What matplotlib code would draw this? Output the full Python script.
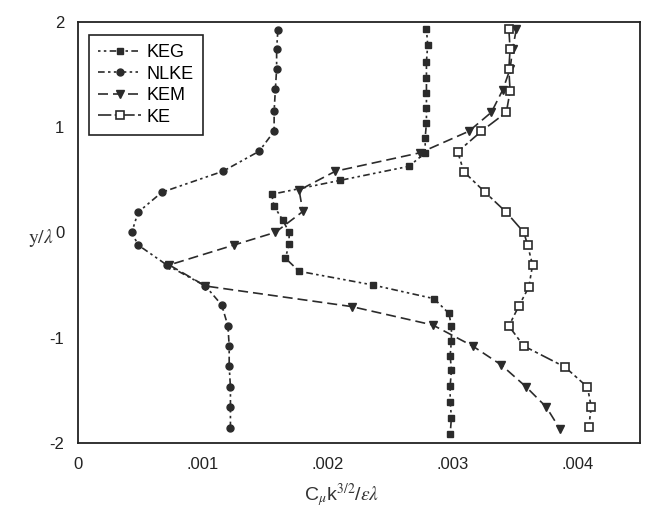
import matplotlib
matplotlib.use('Agg')
import matplotlib.pyplot as plt

# profiles (x in units of C_mu k^1.5 / (eps lambda))
keg_x = [0.00279, 0.00280, 0.00279, 0.00279, 0.00279, 0.00279, 0.00279, 0.00278, 0.00278,
         0.00265, 0.00210, 0.00155, 0.00157, 0.00164, 0.00169, 0.00169, 0.00166, 0.00177,
         0.00236, 0.00285, 0.00297, 0.00299, 0.00299, 0.00298, 0.00299, 0.00298, 0.00298,
         0.00299, 0.00298]
keg_y = [1.93, 1.78, 1.62, 1.47, 1.32, 1.18, 1.04, 0.90, 0.755,
         0.627, 0.494, 0.361, 0.248, 0.114, 0.0, -0.115, -0.245, -0.37,
         -0.50, -0.63, -0.77, -0.89, -1.03, -1.17, -1.31, -1.46, -1.61,
         -1.76, -1.92]

nlke_x = [0.00160, 0.00159, 0.00159, 0.00158, 0.00157, 0.00157, 0.00145, 0.00116, 0.00067,
          0.00048, 0.00043, 0.00048, 0.00071, 0.00102, 0.00115, 0.00120, 0.00121, 0.00121,
          0.00122, 0.00122, 0.00122]
nlke_y = [1.92, 1.74, 1.55, 1.36, 1.15, 0.96, 0.77, 0.58, 0.38,
          0.19, 0.0, -0.12, -0.31, -0.51, -0.69, -0.89, -1.08, -1.27,
          -1.47, -1.66, -1.86]

kem_x = [0.00351, 0.00348, 0.00346, 0.00340, 0.00331, 0.00313, 0.00274, 0.00206, 0.00177,
         0.00180, 0.00158, 0.00125, 0.00073, 0.00102, 0.00219, 0.00284, 0.00316, 0.00339,
         0.00359, 0.00375, 0.00386]
kem_y = [1.93, 1.74, 1.55, 1.35, 1.14, 0.96, 0.756, 0.58, 0.40,
         0.198, 0.0, -0.12, -0.31, -0.51, -0.705, -0.88, -1.08, -1.26,
         -1.47, -1.66, -1.87]

ke_x = [0.00345, 0.00346, 0.00345, 0.00346, 0.00343, 0.00323, 0.00304, 0.00309, 0.00326,
        0.00343, 0.00357, 0.00360, 0.00364, 0.00361, 0.00353, 0.00345, 0.00357, 0.00390,
        0.00408, 0.00411, 0.00409]
ke_y = [1.93, 1.74, 1.55, 1.34, 1.14, 0.96, 0.765, 0.575, 0.38,
        0.19, 0.0, -0.12, -0.31, -0.52, -0.70, -0.89, -1.08, -1.28,
        -1.47, -1.66, -1.85]

x_ticks = [0, 0.001, 0.002, 0.003, 0.004]
x_tick_labels = ['0', '.001', '.002', '.003', '.004']
y_ticks = [-2, -1, 0, 1, 2]

plt.rcParams['font.family'] = ['Liberation Sans Narrow', 'Liberation Sans', 'DejaVu Sans']
plt.rcParams['mathtext.fontset'] = 'stix'
plt.rcParams['axes.unicode_minus'] = False

ink = '#2b2b2b'
fig = plt.figure(figsize=(6.51, 5.18), dpi=100)
ax = fig.add_axes([0.12, 0.145, 0.863, 0.813])

ax.plot(keg_x, keg_y, color=ink, lw=1.2, linestyle=(0, (1.5, 2, 1.5, 2, 4, 2)),
        marker='s', ms=5, mfc=ink, mec=ink, label='KEG')
ax.plot(nlke_x, nlke_y, color=ink, lw=1.2, linestyle=(0, (4, 2, 1.5, 2, 1.5, 2)),
        marker='o', ms=5, mfc=ink, mec=ink, label='NLKE')
ax.plot(kem_x, kem_y, color=ink, lw=1.2, linestyle=(0, (6, 3)),
        marker='v', ms=6, mfc=ink, mec=ink, label='KEM')
ax.plot(ke_x, ke_y, color=ink, lw=1.2, linestyle=(0, (8, 2, 2, 2)),
        marker='s', ms=6, mfc='white', mec=ink, mew=1.2, label='KE')

ax.set_xlim(0, 0.0045)
ax.set_ylim(-2, 2)
ax.set_xticks(x_ticks)
ax.set_xticklabels(x_tick_labels)
ax.set_yticks(y_ticks)
ax.tick_params(length=0, labelsize=12, pad=10, colors='#222222')
for s in ax.spines.values():
    s.set_linewidth(1.3)
    s.set_color('#222222')

leg = ax.legend(loc='upper left', bbox_to_anchor=(0.003, 0.99), fontsize=13,
                handlelength=2.4, handletextpad=0.3, borderpad=0.5,
                labelspacing=0.25, fancybox=False, framealpha=1)
leg.get_frame().set_edgecolor('#222222')
leg.get_frame().set_linewidth(1.2)

fig.text(0.063, 0.54, r'y/$\lambda$', fontsize=14, family='STIXGeneral',
         ha='center', va='center', color='#333333')
fig.text(0.525, 0.045, r'C$_{\mu}$k$^{3/2}$/$\epsilon\lambda$', fontsize=14,
         ha='center', va='center', color='#333333')

fig.savefig('out.png', dpi=100)
